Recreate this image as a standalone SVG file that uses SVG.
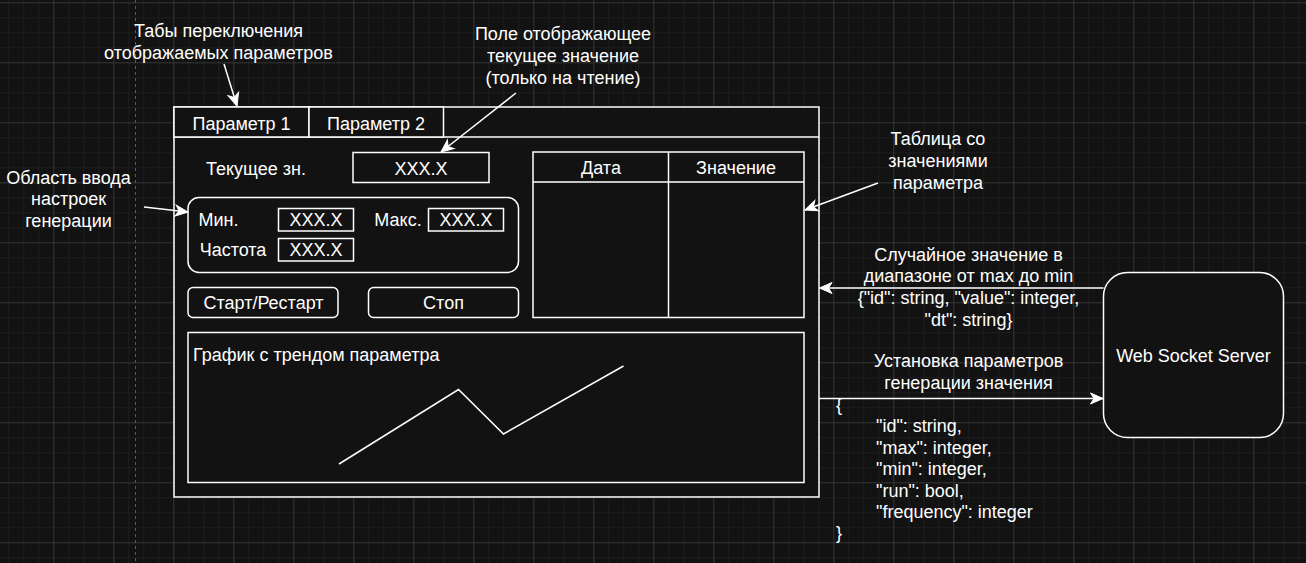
<svg xmlns="http://www.w3.org/2000/svg" width="1306" height="563" viewBox="0 0 1306 563">
  <defs>
    <pattern id="grid" patternUnits="userSpaceOnUse" x="53.3" y="2.3" width="60" height="60">
      <rect x="0" y="0" width="60" height="60" fill="#121212"/>
      <g fill="#1d1d1d">
        <rect x="15" y="0" width="1" height="60"/>
        <rect x="30" y="0" width="1" height="60"/>
        <rect x="45" y="0" width="1" height="60"/>
        <rect x="0" y="15" width="60" height="1"/>
        <rect x="0" y="30" width="60" height="1"/>
        <rect x="0" y="45" width="60" height="1"/>
      </g>
      <g fill="#353535">
        <rect x="0" y="0" width="1" height="60"/>
        <rect x="0" y="0" width="60" height="1"/>
      </g>
    </pattern>
    <marker id="arrow" markerUnits="userSpaceOnUse" markerWidth="16" markerHeight="16" viewBox="0 0 16 16" refX="14" refY="8" orient="auto">
      <path d="M1.5,2.5 L14,8 L1.5,13.5 L5,8 Z" fill="#ffffff" stroke="#ffffff" stroke-width="1"/>
    </marker>
  </defs>
  <style>
    .box { fill: #121212; stroke: #ffffff; stroke-width: 1.5; }
    .ln { fill: none; stroke: #ffffff; stroke-width: 1.5; }
    .t { font-family: "Liberation Sans", Arial, Helvetica, sans-serif; font-size: 18px; fill: #ffffff; }
    .c { text-anchor: middle; }
    .conn { fill: none; stroke: #ffffff; stroke-width: 1.5; marker-end: url(#arrow); }
  </style>

  <rect x="0" y="0" width="1306" height="563" fill="url(#grid)"/>
  <line x1="135.5" y1="0" x2="135.5" y2="563" stroke="#5a5a5a" stroke-width="1" stroke-dasharray="3 3"/>

  <g id="frame">
    <rect class="box" x="174" y="107" width="645" height="390"/>
    <line class="ln" x1="174" y1="137" x2="819" y2="137"/>
  </g>

  <g id="tab1">
    <rect class="box" x="174" y="107" width="135" height="30"/>
    <text class="t c" x="241.5" y="129.5">Параметр 1</text>
  </g>
  <g id="tab2">
    <rect class="box" x="309" y="107" width="134.5" height="30"/>
    <text class="t c" x="376" y="129.5">Параметр 2</text>
  </g>

  <g id="current-label">
    <text class="t c" x="256" y="174.5">Текущее зн.</text>
  </g>
  <g id="current-field">
    <rect class="box" x="353" y="152.5" width="136" height="30"/>
    <text class="t c" x="421" y="174.5">XXX.X</text>
  </g>

  <g id="settings">
    <rect class="box" x="188" y="197.5" width="330.5" height="75" rx="11" ry="11"/>
    <text class="t" x="198.5" y="226">Мин.</text>
    <rect class="box" x="278.5" y="208.5" width="75" height="22.5"/>
    <text class="t c" x="316" y="226">XXX.X</text>
    <text class="t c" x="398" y="226">Макс.</text>
    <rect class="box" x="428.5" y="208.5" width="75" height="22.5"/>
    <text class="t c" x="466" y="226">XXX.X</text>
    <text class="t c" x="233" y="256">Частота</text>
    <rect class="box" x="278.5" y="238.5" width="75" height="22.5"/>
    <text class="t c" x="316" y="256">XXX.X</text>
  </g>

  <g id="start-button">
    <rect class="box" x="188" y="287.5" width="150" height="30" rx="5" ry="5"/>
    <text class="t c" x="263.5" y="309">Старт/Рестарт</text>
  </g>
  <g id="stop-button">
    <rect class="box" x="368.5" y="287.5" width="150" height="30" rx="5" ry="5"/>
    <text class="t c" x="443.5" y="309">Стоп</text>
  </g>

  <g id="table">
    <rect class="box" x="533" y="152" width="271" height="165.5"/>
    <line class="ln" x1="533" y1="182" x2="804" y2="182"/>
    <line class="ln" x1="668.5" y1="152" x2="668.5" y2="317.5"/>
    <text class="t c" x="601" y="174">Дата</text>
    <text class="t c" x="736" y="174">Значение</text>
  </g>

  <g id="chart">
    <rect class="box" x="188" y="332.5" width="616" height="150"/>
    <text class="t" x="193" y="361">График с трендом параметра</text>
    <polyline class="ln" points="339,464 458.5,389.5 503.5,434 623.5,366"/>
  </g>

  <g id="ws-server">
    <rect class="box" x="1103.5" y="272.5" width="180" height="165" rx="24" ry="24"/>
    <text class="t c" x="1193.5" y="361.5">Web Socket Server</text>
  </g>

  <g id="annotations">
    <text class="t c" x="218.5" y="37">Табы переключения</text>
    <text class="t c" x="218.5" y="58.5">отображаемых параметров</text>
    <text class="t c" x="563" y="40">Поле отображающее</text>
    <text class="t c" x="563" y="62">текущее значение</text>
    <text class="t c" x="563" y="84">(только на чтение)</text>
    <text class="t c" x="68.5" y="183.5">Область ввода</text>
    <text class="t c" x="68.5" y="205">настроек</text>
    <text class="t c" x="68.5" y="226.5">генерации</text>
    <text class="t c" x="938" y="145">Таблица со</text>
    <text class="t c" x="938" y="167">значениями</text>
    <text class="t c" x="938" y="189">параметра</text>
  </g>

  <g id="connectors">
    <line class="conn" x1="224" y1="64" x2="237" y2="106"/>
    <line class="conn" x1="516" y1="93" x2="441" y2="152"/>
    <line class="conn" x1="144" y1="207" x2="188" y2="212"/>
    <line class="conn" x1="878" y1="183" x2="805" y2="210"/>
    <line class="conn" x1="1103.5" y1="288" x2="819.5" y2="288"/>
    <line class="conn" x1="819" y1="398.5" x2="1103" y2="398.5"/>
  </g>

  <g id="connector-labels">
    <text class="t c" x="968.5" y="260.5">Случайное значение в</text>
    <text class="t c" x="968.5" y="282">диапазоне от max до min</text>
    <text class="t c" x="968.5" y="304">{"id": string, "value": integer,</text>
    <text class="t c" x="968.5" y="325.5">"dt": string}</text>
    <text class="t c" x="968.5" y="367">Установка параметров</text>
    <text class="t c" x="968.5" y="388.5">генерации значения</text>
    <text class="t" x="836" y="411">{</text>
    <text class="t" x="876" y="432.4">"id": string,</text>
    <text class="t" x="876" y="453.8">"max": integer,</text>
    <text class="t" x="876" y="475.2">"min": integer,</text>
    <text class="t" x="876" y="496.6">"run": bool,</text>
    <text class="t" x="876" y="518">"frequency": integer</text>
    <text class="t" x="836" y="539.4">}</text>
  </g>
</svg>
